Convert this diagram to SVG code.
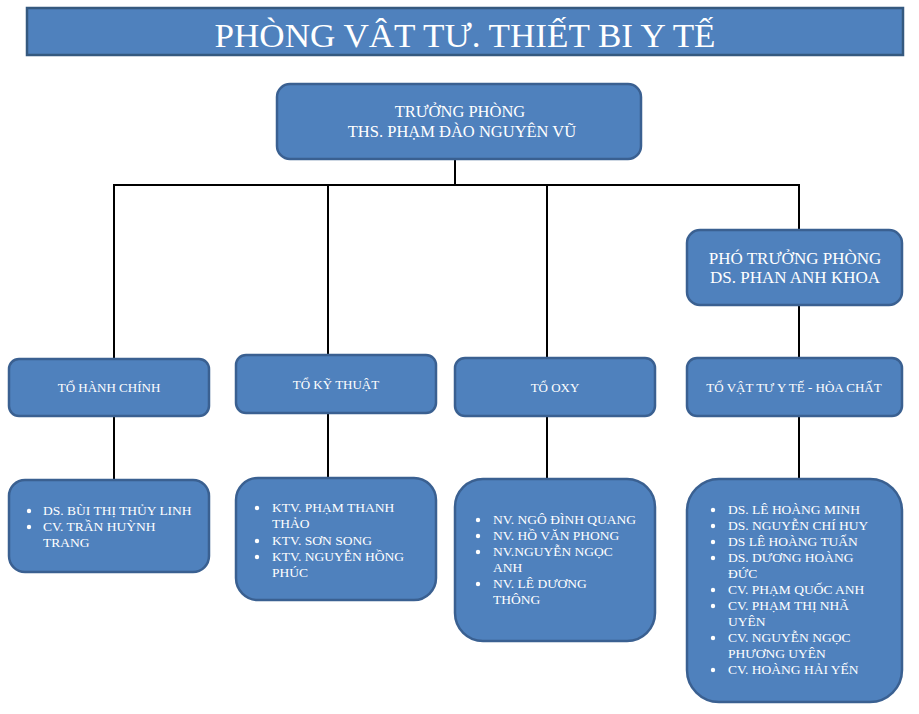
<svg xmlns="http://www.w3.org/2000/svg" width="919" height="714" viewBox="0 0 919 714">
  <style>
    .box { fill: #4f81bd; stroke: #3a6091; stroke-width: 2.5; }
    .bar { fill: #4f81bd; stroke: #35597f; stroke-width: 2.5; }
    .wire { fill: none; stroke: #000; stroke-width: 2; }
    text { font-family: "Liberation Serif", "Times New Roman", serif; fill: #ffffff; }
    .title { font-size: 34px; text-anchor: middle; }
    .head { font-size: 16.5px; text-anchor: middle; }
    .sub { font-size: 17px; text-anchor: middle; }
    .team { font-size: 13px; text-anchor: middle; }
    .item { font-size: 13.5px; }
    .dot { fill: #ffffff; }
  </style>

  <rect width="919" height="714" fill="#ffffff"/>

  <!-- heading bar -->
  <g id="title">
    <rect class="bar" x="27" y="8" width="876" height="47"/>
    <text class="title" x="465" y="47" textLength="501" lengthAdjust="spacingAndGlyphs">PHÒNG VÂT TƯ. THIẾT BI Y TẾ</text>
  </g>

  <!-- connectors -->
  <g id="connectors">
    <path class="wire" d="M455,159 V185"/>
    <path class="wire" d="M113,185 H800"/>
    <path class="wire" d="M114,185 V359"/>
    <path class="wire" d="M328,185 V355"/>
    <path class="wire" d="M547,185 V358"/>
    <path class="wire" d="M799,185 V231"/>
    <path class="wire" d="M799,305 V358"/>
    <path class="wire" d="M114,416 V480"/>
    <path class="wire" d="M328,413 V478"/>
    <path class="wire" d="M547,416 V479"/>
    <path class="wire" d="M799,416 V479"/>
  </g>

  <!-- head of department -->
  <g id="truong-phong">
    <rect class="box" x="277" y="84" width="364" height="75" rx="13"/>
    <text class="head" x="460" y="117">TRƯỞNG PHÒNG</text>
    <text class="head" x="462" y="137">THS. PHẠM ĐÀO NGUYÊN VŨ</text>
  </g>

  <!-- deputy head -->
  <g id="pho-truong-phong">
    <rect class="box" x="687" y="230" width="215" height="75" rx="13"/>
    <text class="sub" x="795" y="264">PHÓ TRƯỞNG PHÒNG</text>
    <text class="sub" x="795" y="283">DS. PHAN ANH KHOA</text>
  </g>

  <!-- teams -->
  <g id="to-hanh-chinh">
    <rect class="box" x="9" y="359" width="200" height="57" rx="10"/>
    <text class="team" x="109" y="392">TỔ HÀNH CHÍNH</text>
  </g>
  <g id="to-ky-thuat">
    <rect class="box" x="236" y="355" width="200" height="58" rx="10"/>
    <text class="team" x="336" y="389">TỔ KỸ THUẬT</text>
  </g>
  <g id="to-oxy">
    <rect class="box" x="455" y="358" width="200" height="58" rx="10"/>
    <text class="team" x="555" y="392">TỔ OXY</text>
  </g>
  <g id="to-vat-tu">
    <rect class="box" x="687" y="358" width="215" height="58" rx="10"/>
    <text class="team" x="794" y="392">TỔ VẬT TƯ Y TẾ - HÒA CHẤT</text>
  </g>

  <!-- staff lists -->
  <g id="ds-hanh-chinh">
    <rect class="box" x="9" y="480" width="200" height="92" rx="16"/>
    <circle class="dot" cx="29" cy="511" r="2.2"/>
    <circle class="dot" cx="29" cy="527" r="2.2"/>
    <text class="item" x="43" y="515">DS. BÙI THỊ THỦY LINH</text>
    <text class="item" x="43" y="531">CV. TRẦN HUỲNH</text>
    <text class="item" x="43" y="547">TRANG</text>
  </g>

  <g id="ds-ky-thuat">
    <rect class="box" x="236" y="478" width="200" height="122" rx="22"/>
    <circle class="dot" cx="257" cy="508" r="2.2"/>
    <circle class="dot" cx="257" cy="541" r="2.2"/>
    <circle class="dot" cx="257" cy="557" r="2.2"/>
    <text class="item" x="272" y="512">KTV. PHẠM THANH</text>
    <text class="item" x="272" y="528">THẢO</text>
    <text class="item" x="272" y="545">KTV. SƠN SONG</text>
    <text class="item" x="272" y="561">KTV. NGUYỄN HỒNG</text>
    <text class="item" x="272" y="577">PHÚC</text>
  </g>

  <g id="ds-oxy">
    <rect class="box" x="455" y="479" width="200" height="162" rx="28"/>
    <circle class="dot" cx="478" cy="520" r="2.2"/>
    <circle class="dot" cx="478" cy="536" r="2.2"/>
    <circle class="dot" cx="478" cy="552" r="2.2"/>
    <circle class="dot" cx="478" cy="584" r="2.2"/>
    <text class="item" x="493" y="524">NV. NGÔ ĐÌNH QUANG</text>
    <text class="item" x="493" y="540">NV. HỒ VĂN PHONG</text>
    <text class="item" x="493" y="556">NV.NGUYỄN NGỌC</text>
    <text class="item" x="493" y="572">ANH</text>
    <text class="item" x="493" y="588">NV. LÊ DƯƠNG</text>
    <text class="item" x="493" y="604">THÔNG</text>
  </g>

  <g id="ds-vat-tu">
    <rect class="box" x="687" y="479" width="215" height="223" rx="32"/>
    <circle class="dot" cx="713" cy="510" r="2.2"/>
    <circle class="dot" cx="713" cy="526" r="2.2"/>
    <circle class="dot" cx="713" cy="542" r="2.2"/>
    <circle class="dot" cx="713" cy="558" r="2.2"/>
    <circle class="dot" cx="713" cy="590" r="2.2"/>
    <circle class="dot" cx="713" cy="606" r="2.2"/>
    <circle class="dot" cx="713" cy="638" r="2.2"/>
    <circle class="dot" cx="713" cy="670" r="2.2"/>
    <text class="item" x="728" y="514">DS. LÊ HOÀNG MINH</text>
    <text class="item" x="728" y="530">DS. NGUYỄN CHÍ HUY</text>
    <text class="item" x="728" y="546">DS LÊ HOÀNG TUẤN</text>
    <text class="item" x="728" y="562">DS. DƯƠNG HOÀNG</text>
    <text class="item" x="728" y="578">ĐỨC</text>
    <text class="item" x="728" y="594">CV. PHẠM QUỐC ANH</text>
    <text class="item" x="728" y="610">CV. PHẠM THỊ NHÃ</text>
    <text class="item" x="728" y="626">UYÊN</text>
    <text class="item" x="728" y="642">CV. NGUYỄN NGỌC</text>
    <text class="item" x="728" y="658">PHƯƠNG UYÊN</text>
    <text class="item" x="728" y="674">CV. HOÀNG HẢI YẾN</text>
  </g>
</svg>
